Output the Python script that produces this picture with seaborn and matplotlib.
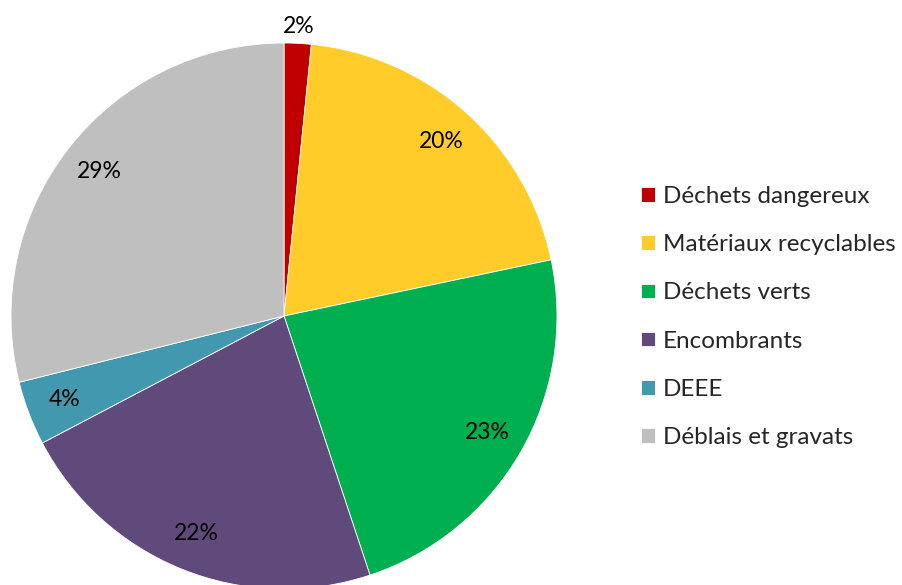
import numpy as np
import matplotlib
matplotlib.use("Agg")
import matplotlib.pyplot as plt
import seaborn as sns

categories = ["Déchets dangereux", "Matériaux recyclables", "Déchets verts",
              "Encombrants", "DEEE", "Déblais et gravats"]
values = [1.6, 20.1, 23.2, 22.4, 3.8, 28.9]
colors = ["#C00000", "#FFCC29", "#00B050", "#604A7B", "#4198AF", "#BFBFBF"]

sns.set_style("white")
plt.rcParams["font.family"] = ["Lato", "DejaVu Sans"]

fig = plt.figure(figsize=(9.03, 5.85), dpi=100)
# pie centre at (284, 316) px from top-left, radius 273 px
ax = fig.add_axes([(284 - 273) / 903, (269 - 273) / 585, 546 / 903, 546 / 585])

wedges, texts, autotexts = ax.pie(
    values, colors=colors, startangle=90, counterclock=False,
    autopct=lambda p: f"{round(p)}%", pctdistance=0.86,
    wedgeprops=dict(edgecolor="white", linewidth=0.6),
    textprops=dict(fontsize=16.5, color="black"),
)
ax.set_xlim(-1, 1)
ax.set_ylim(-1, 1)
ax.set_aspect("equal")
ax.axis("off")

# small slice: put label outside the pie
w = wedges[0]
mid = np.deg2rad((w.theta1 + w.theta2) / 2)
autotexts[0].set_position((1.06 * np.cos(mid), 1.06 * np.sin(mid)))

leg = fig.legend(wedges, categories, loc="center left",
                 bbox_to_anchor=(0.686, 0.458), frameon=False,
                 fontsize=17.5, handlelength=0.55, handleheight=0.55,
                 handletextpad=0.35, labelspacing=1.12)

fig.savefig("out.png", dpi=100)
